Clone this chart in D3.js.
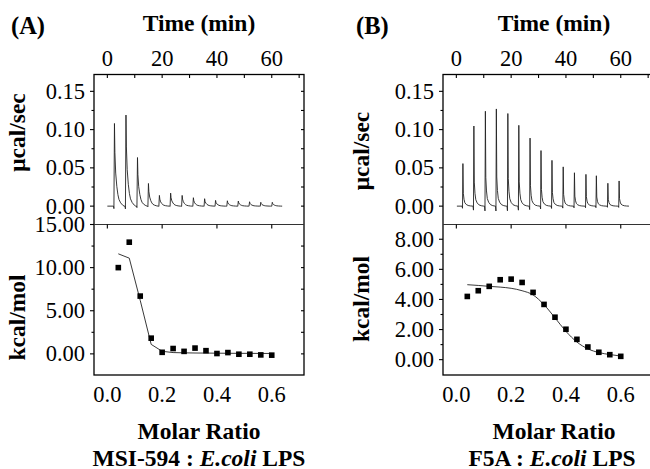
<!DOCTYPE html>
<html>
<head>
<meta charset="utf-8">
<script src="https://cdn.jsdelivr.net/npm/d3@7"></script>
<style>
  body { margin: 0; background: #fff; }
</style>
</head>
<body>
<svg id="chart" width="650" height="469"></svg>
<script>
// molar ratio of each injection (shared by both panels)
const injRatio = [0.04, 0.08, 0.12, 0.16, 0.20, 0.24, 0.28, 0.32, 0.36, 0.40, 0.44, 0.48, 0.52, 0.56, 0.60];

const timeTicks = [0, 20, 40, 60];
const ratioTicks = [0, 0.2, 0.4, 0.6];
const powerTicks = [0, 0.05, 0.10, 0.15];

// (A) MSI-594 : E.coli LPS
const injTimeA = [2.6, 6.8, 11.0, 15.0, 19.0, 23.1, 27.3, 31.4, 35.5, 39.5, 43.8, 47.8, 51.9, 56.0, 60.2];
const peakA = [0.108, 0.119, 0.0635, 0.0296, 0.014, 0.017, 0.014, 0.011, 0.0097, 0.0075, 0.007, 0.0066, 0.0057, 0.005, 0.005];
const heatA = [10.0, 12.95, 6.7, 1.82, 0.18, 0.62, 0.29, 0.67, 0.37, 0.04, 0.15, -0.04, -0.04, -0.12, -0.15];
const fitA = [11.6, 11.1, 6.2, 1.1, 0.3, 0.15, 0.12, 0.10, 0.09, 0.08, 0.07, 0.06, 0.06, 0.05, 0.05];
const heatTicksA = [0, 5, 10, 15];

// (B) F5A : E.coli LPS
const injTimeB = [2.4, 6.4, 10.6, 14.6, 18.8, 22.8, 26.9, 30.9, 34.9, 39.0, 43.1, 47.3, 51.1, 55.3, 59.4];
const peakB = [0.0556, 0.1047, 0.124, 0.127, 0.121, 0.1056, 0.0889, 0.0726, 0.0598, 0.0513, 0.0436, 0.0415, 0.0397, 0.0299, 0.0329];
const heatB = [4.2, 4.58, 4.87, 5.31, 5.35, 5.13, 4.47, 3.67, 2.82, 2.02, 1.35, 0.84, 0.49, 0.33, 0.22];
const fitB = [4.98, 4.93, 4.87, 4.82, 4.74, 4.58, 4.30, 3.65, 2.78, 1.88, 1.17, 0.72, 0.47, 0.34, 0.24];
const heatTicksB = [0, 2, 4, 6, 8];

// injection peak shape: [minutes from injection, fraction of peak]
const shapeA = [[0, 0], [0.15, -0.03], [0.35, 1], [0.5, 0.65], [0.8, 0.4], [1.2, 0.24], [1.6, 0.14], [2.0, 0.08], [2.6, 0.04], [3.4, 0.01], [3.9, 0]];
const shapeB = [[0, 0], [0.15, -0.05], [0.3, 1], [0.45, 0.3], [0.7, 0.16], [1.0, 0.08], [1.5, 0.04], [2.2, 0.015], [3.0, 0.005], [3.9, 0]];

const svg = d3.select('#chart').style('font-family', "'Liberation Serif', 'Times New Roman', serif");

const W = 210, H = 300.5, mid = 150;
const FONT = 'Liberation Serif';

function drawPanel(cfg) {
    const g = svg.append('g').attr('transform', 'translate(' + cfg.left + ',74.5)');

    const x = d3.scaleLinear().domain([-0.0487, 0.7177]).range([0, W]);
    const t = d3.scaleLinear().domain([-4.87, 71.77]).range([0, W]);
    const yTop = d3.scaleLinear().domain([-0.024, 0.172]).range([mid, 0]);
    const yBot = d3.scaleLinear().domain(cfg.heatDomain).range([H, mid]);

    // thermogram trace
    let trace = [[cfg.traceStart, 0]];
    cfg.injTime.forEach((tt, i) => {
        const t0 = tt - cfg.shape[2][0];
        cfg.shape.forEach(p => trace.push([t0 + p[0], p[1] * cfg.peak[i]]));
    });
    trace.push([cfg.traceEnd, 0]);

    g.append('path')
        .datum(trace)
        .attr('fill', 'none')
        .attr('stroke', '#222')
        .attr('stroke-width', 0.9)
        .attr('d', d3.line().x(d => t(d[0])).y(d => yTop(d[1])));

    // fit line
    g.append('path')
        .datum(injRatio.map((r, i) => [r, cfg.fit[i]]))
        .attr('fill', 'none')
        .attr('stroke', '#222')
        .attr('stroke-width', 0.9)
        .attr('d', d3.line().x(d => x(d[0])).y(d => yBot(d[1])).curve(cfg.curve));

    // integrated heats
    g.selectAll('rect.pt')
        .data(injRatio.map((r, i) => [r, cfg.heat[i]]))
        .enter().append('rect')
        .attr('class', 'pt')
        .attr('x', d => x(d[0]) - 2.8)
        .attr('y', d => yBot(d[1]) - 2.8)
        .attr('width', 5.6)
        .attr('height', 5.6)
        .attr('fill', '#000');

    // frame
    g.append('rect')
        .attr('width', W).attr('height', H)
        .attr('fill', 'none').attr('stroke', '#000').attr('stroke-width', 1.3);
    g.append('line')
        .attr('x1', 0).attr('x2', W).attr('y1', mid).attr('y2', mid)
        .attr('stroke', '#333').attr('stroke-width', 1.2);

    const tick = (x1, y1, x2, y2) => g.append('line')
        .attr('x1', x1).attr('y1', y1).attr('x2', x2).attr('y2', y2)
        .attr('stroke', '#000').attr('stroke-width', 1.1);

    // top time axis: major + minor, inward
    d3.range(0, 71, 10).forEach(v => tick(t(v), 0, t(v), 3.5));
    // ticks under the divider at ratio majors
    ratioTicks.forEach(v => tick(x(v), mid, x(v), mid + 4));

    // upper y ticks
    d3.range(0, 0.17, 0.025).forEach((v, i) => {
        const major = i % 2 === 0;
        tick(0, yTop(v), major ? -4 : -2.5, yTop(v));
        tick(W, yTop(v), W - 3, yTop(v));
    });
    // lower y ticks
    const step = cfg.heatTicks[1] - cfg.heatTicks[0];
    const top = cfg.heatTicks[cfg.heatTicks.length - 1];
    d3.range(0, top + 0.01, step / 2).forEach((v, i) => {
        const major = i % 2 === 0;
        tick(0, yBot(v), major ? -4 : -2.5, yBot(v));
        if (v < top) tick(W, yBot(v), W - 3, yBot(v));
    });

    // tick labels
    const fs = 22.5;
    const label = sel => sel.style('font-family', FONT).attr('font-size', fs);
    g.selectAll('text.tt')
        .data(timeTicks).enter().append('text')
        .attr('x', d => t(d)).attr('y', -8.5)
        .attr('text-anchor', 'middle').call(label)
        .text(d => d);
    g.selectAll('text.rt')
        .data(ratioTicks).enter().append('text')
        .attr('x', d => x(d)).attr('y', H + 27)
        .attr('text-anchor', 'middle').call(label)
        .text(d => d3.format('.1f')(d));
    g.selectAll('text.pt')
        .data(powerTicks).enter().append('text')
        .attr('x', -9).attr('y', d => yTop(d) + 7.5)
        .attr('text-anchor', 'end').call(label)
        .text(d => d3.format('.2f')(d));
    g.selectAll('text.ht')
        .data(cfg.heatTicks).enter().append('text')
        .attr('x', -9).attr('y', d => yBot(d) + 7.5)
        .attr('text-anchor', 'end').call(label)
        .text(d => d3.format('.2f')(d));

    // titles
    const title = sel => sel.style('font-family', FONT).attr('font-size', 23.5).attr('font-weight', 'bold');
    svg.append('text')
        .attr('x', cfg.labelX).attr('y', 33.5)
        .call(title).attr('font-size', 24.5)
        .text(cfg.label);
    svg.append('text')
        .attr('x', cfg.left + cfg.titleDx).attr('y', 30.5)
        .attr('text-anchor', 'middle').call(title)
        .text('Time (min)');
    svg.append('text')
        .attr('transform', 'translate(' + (cfg.left + cfg.yTitleX) + ',' + cfg.yTitleTop + ') rotate(-90)')
        .attr('text-anchor', 'middle').call(title)
        .text('\u03bccal/sec');
    svg.append('text')
        .attr('transform', 'translate(' + (cfg.left + cfg.yTitleX) + ',' + cfg.yTitleBot + ') rotate(-90)')
        .attr('text-anchor', 'middle').call(title)
        .text('kcal/mol');
    svg.append('text')
        .attr('x', cfg.left + cfg.titleDx).attr('y', 439)
        .attr('text-anchor', 'middle').call(title)
        .text('Molar Ratio');
    const sub = svg.append('text')
        .attr('x', cfg.left + cfg.subDx).attr('y', 465.5)
        .attr('text-anchor', 'middle').call(title);
    sub.append('tspan').text(cfg.peptide + ' : ');
    sub.append('tspan').attr('font-style', 'italic').text('E.coli');
    sub.append('tspan').text(' LPS');
}

drawPanel({
    left: 94, label: '(A)', labelX: 11, peptide: 'MSI-594',
    injTime: injTimeA, peak: peakA, shape: shapeA, traceStart: 0, traceEnd: 63.8,
    heat: heatA, fit: fitA, curve: d3.curveLinear,
    heatDomain: [-2.45, 15.0], heatTicks: heatTicksA,
    titleDx: 105, subDx: 105, yTitleX: -69, yTitleTop: 132.5, yTitleBot: 317.5
});

drawPanel({
    left: 443, label: '(B)', labelX: 356, peptide: 'F5A',
    injTime: injTimeB, peak: peakB, shape: shapeB, traceStart: 0.2, traceEnd: 63,
    heat: heatB, fit: fitB, curve: d3.curveMonotoneX,
    heatDomain: [-1.02, 8.98], heatTicks: heatTicksB,
    titleDx: 111, subDx: 109, yTitleX: -74, yTitleTop: 151, yTitleBot: 299
});
</script>
</body>
</html>
